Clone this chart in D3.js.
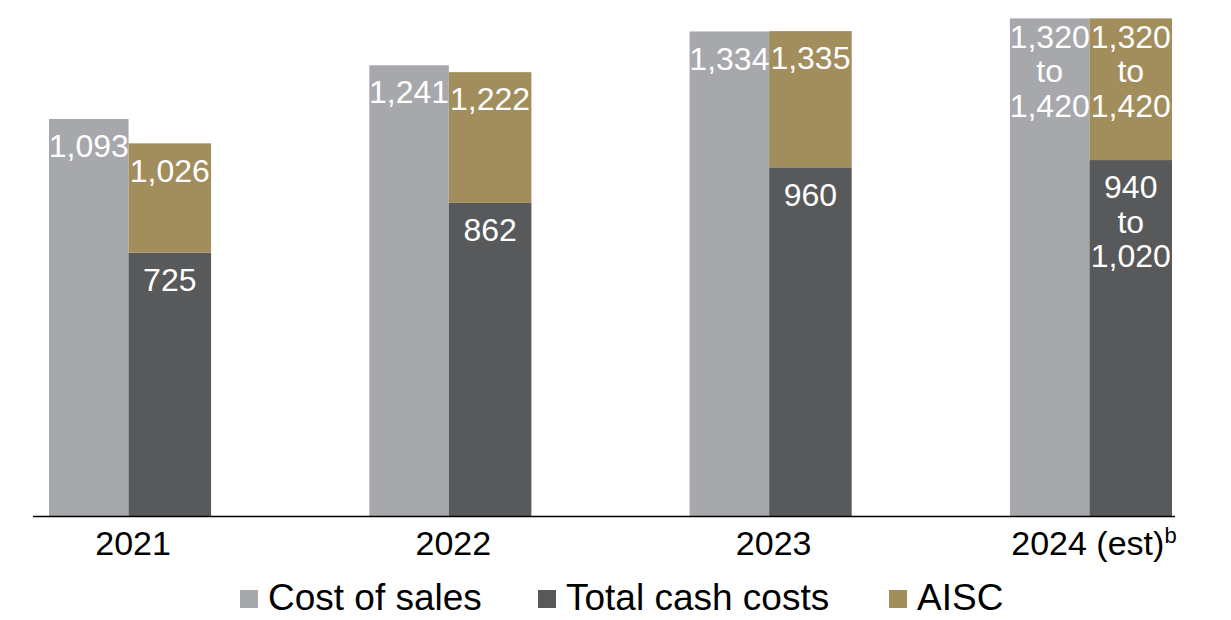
<!DOCTYPE html>
<html>
<head>
<meta charset="utf-8">
<script src="https://cdn.jsdelivr.net/npm/d3@7"></script>
<style>
  html, body { margin: 0; padding: 0; background: #ffffff; }
  svg { display: block; font-family: "Liberation Sans", Arial, sans-serif; }
</style>
</head>
<body>
<svg id="chart" width="1231" height="620"></svg>
<script>
// ---- Data ----
const years = ["2021", "2022", "2023", "2024 (est)"];
const yearSup = ["", "", "", "b"];
const costOfSales = [1093, 1241, 1334, 1370];
const totalCashCosts = [725, 862, 960, 980];
const aisc = [1026, 1222, 1335, 1370];
const costOfSalesLabels = [["1,093"], ["1,241"], ["1,334"], ["1,320", "to", "1,420"]];
const totalCashLabels = [["725"], ["862"], ["960"], ["940", "to", "1,020"]];
const aiscLabels = [["1,026"], ["1,222"], ["1,335"], ["1,320", "to", "1,420"]];
const seriesNames = ["Cost of sales", "Total cash costs", "AISC"];
const colors = ["#a7a8ac", "#58595b", "#a28d5c"];

// ---- Layout ----
const svg = d3.select("#chart");
const baseY = 516;
const x = d3.scaleBand().domain(years).range([49, 1172]).paddingInner(0.494).paddingOuter(0);
const y = d3.scaleLinear().domain([0, 1400]).range([baseY, 7.5]);
const bw = x.bandwidth() / 2;
const grayW = bw - 1.5;

const g = svg.append("g");

years.forEach((yr, i) => {
  const x0 = x(yr);
  // Cost of sales
  g.append("rect").attr("x", x0).attr("y", y(costOfSales[i]))
    .attr("width", grayW).attr("height", y(0) - y(costOfSales[i])).attr("fill", colors[0]);
  // Total cash costs
  g.append("rect").attr("x", x0 + grayW).attr("y", y(totalCashCosts[i]))
    .attr("width", x.bandwidth() - grayW).attr("height", y(0) - y(totalCashCosts[i])).attr("fill", colors[1]);
  // AISC (stacked above total cash costs)
  g.append("rect").attr("x", x0 + grayW).attr("y", y(aisc[i]))
    .attr("width", x.bandwidth() - grayW).attr("height", y(totalCashCosts[i]) - y(aisc[i])).attr("fill", colors[2]);
});

// ---- Value labels ----
function addLabel(cx, topY, lines) {
  const multi = lines.length > 1;
  const first = topY + (multi && topY < 60 ? 18 : 27);
  const t = g.append("text").attr("text-anchor", "middle").attr("fill", "#ffffff")
    .attr("font-size", 32);
  lines.forEach((ln, k) => {
    t.append("tspan").attr("x", cx).attr("y", first + k * 34.5).attr("dy", "0.35em").text(ln);
  });
}
years.forEach((yr, i) => {
  const x0 = x(yr);
  const darkW = x.bandwidth() - grayW;
  addLabel(x0 + grayW / 2, y(costOfSales[i]), costOfSalesLabels[i]);
  addLabel(x0 + grayW + darkW / 2, y(aisc[i]), aiscLabels[i]);
  addLabel(x0 + grayW + darkW / 2, y(totalCashCosts[i]), totalCashLabels[i]);
});

// ---- X axis ----
const axis = svg.append("g").attr("transform", `translate(0,${baseY})`)
  .call(d3.axisBottom(x).tickSize(0).tickSizeOuter(0).tickPadding(15));
axis.select(".domain").attr("d", "M33,0.5H1175").attr("stroke", "#000").attr("stroke-width", 1.5);
axis.selectAll(".tick text").attr("font-size", 34).attr("fill", "#000").attr("dx", 3)
  .attr("font-family", "Liberation Sans, Arial, sans-serif")
  .each(function(d, i) {
    if (yearSup[i]) {
      d3.select(this).append("tspan").attr("dy", "-0.55em").attr("font-size", 22).text(yearSup[i]);
    }
  });

// ---- Legend ----
const legendX = [240, 538, 889];
const legend = svg.append("g");
seriesNames.forEach((name, i) => {
  legend.append("rect").attr("x", legendX[i]).attr("y", 590).attr("width", 18).attr("height", 18)
    .attr("fill", colors[i]);
  legend.append("text").attr("x", legendX[i] + 28).attr("y", 610)
    .attr("font-size", 37).attr("fill", "#000").text(name);
});
</script>
</body>
</html>
